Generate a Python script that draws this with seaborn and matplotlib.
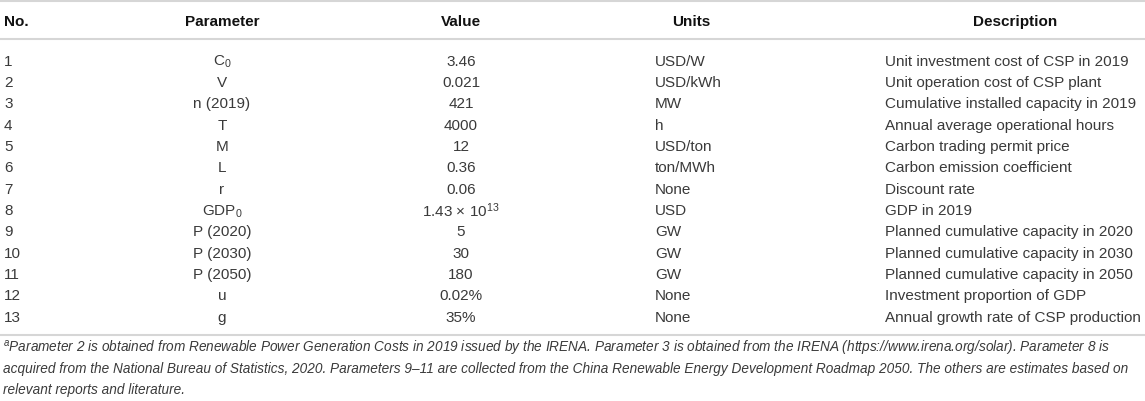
import matplotlib
matplotlib.use("Agg")
import matplotlib.pyplot as plt
import seaborn as sns

# table contents
numbers = [str(i) for i in range(1, 14)]
parameters = ["C$_0$", "V", "n (2019)", "T", "M", "L", "r", "GDP$_0$",
              "P (2020)", "P (2030)", "P (2050)", "u", "g"]
values = ["3.46", "0.021", "421", "4000", "12", "0.36", "0.06",
          "1.43 \u00d7 10$^{13}$", "5", "30", "180", "0.02%", "35%"]
units = ["USD/W", "USD/kWh", "MW", "h", "USD/ton", "ton/MWh", "None",
         "USD", "GW", "GW", "GW", "None", "None"]
descriptions = ["Unit investment cost of CSP in 2019",
                "Unit operation cost of CSP plant",
                "Cumulative installed capacity in 2019",
                "Annual average operational hours",
                "Carbon trading permit price",
                "Carbon emission coefficient",
                "Discount rate",
                "GDP in 2019",
                "Planned cumulative capacity in 2020",
                "Planned cumulative capacity in 2030",
                "Planned cumulative capacity in 2050",
                "Investment proportion of GDP",
                "Annual growth rate of CSP production"]
headers = ["No.", "Parameter", "Value", "Units", "Description"]
footnote = ["$^a$Parameter 2 is obtained from Renewable Power Generation Costs in 2019 issued by the IRENA. "
            "Parameter 3 is obtained from the IRENA (https://www.irena.org/solar). Parameter 8 is",
            "acquired from the National Bureau of Statistics, 2020. Parameters 9\u201311 are collected from the "
            "China Renewable Energy Development Roadmap 2050. The others are estimates based on",
            "relevant reports and literature."]

sns.set_theme(style="white")
plt.rcParams['font.family'] = ['Liberation Sans', 'DejaVu Sans']
plt.rcParams['mathtext.fontset'] = 'custom'
plt.rcParams['mathtext.rm'] = 'Liberation Sans'
plt.rcParams['mathtext.it'] = 'Liberation Sans:italic'
plt.rcParams['mathtext.bf'] = 'Liberation Sans:bold'

W, H = 1145, 401
fig = plt.figure(figsize=(W / 100, H / 100), dpi=100)
ax = fig.add_axes([0, 0, 1, 1])
ax.set_xlim(0, W)
ax.set_ylim(H, 0)
ax.axis('off')

fs = 11
txt = '#3a3a3a'
line_c = '#d6d6d6'

# column anchors (x, alignment) for header and body
head_x = [(4, 'left'), (222, 'center'), (461, 'center'), (691, 'center'), (1015, 'center')]
body_x = [(4, 'left'), (222, 'center'), (461, 'center'), (655, 'left'), (885, 'left')]

ax.axhline(1, color=line_c, lw=1.5)
ax.axhline(39, color=line_c, lw=1.5)
ax.axhline(335, color=line_c, lw=1.5)

for (x, ha), h in zip(head_x, headers):
    ax.text(x, 22, h, ha=ha, va='center', fontsize=fs, fontweight='bold', color='#111111')

row_y0, row_dy = 60, 21.35
columns = [numbers, parameters, values, units, descriptions]
for i in range(len(numbers)):
    y = row_y0 + i * row_dy
    for (x, ha), col in zip(body_x, columns):
        ax.text(x, y, col[i], ha=ha, va='center_baseline', fontsize=fs, color=txt)

for j, line in enumerate(footnote):
    ax.text(3, 349 + j * 20.5, line, ha='left', va='center', fontsize=9.85,
            style='italic', color=txt)

fig.savefig('out.png', dpi=100)
